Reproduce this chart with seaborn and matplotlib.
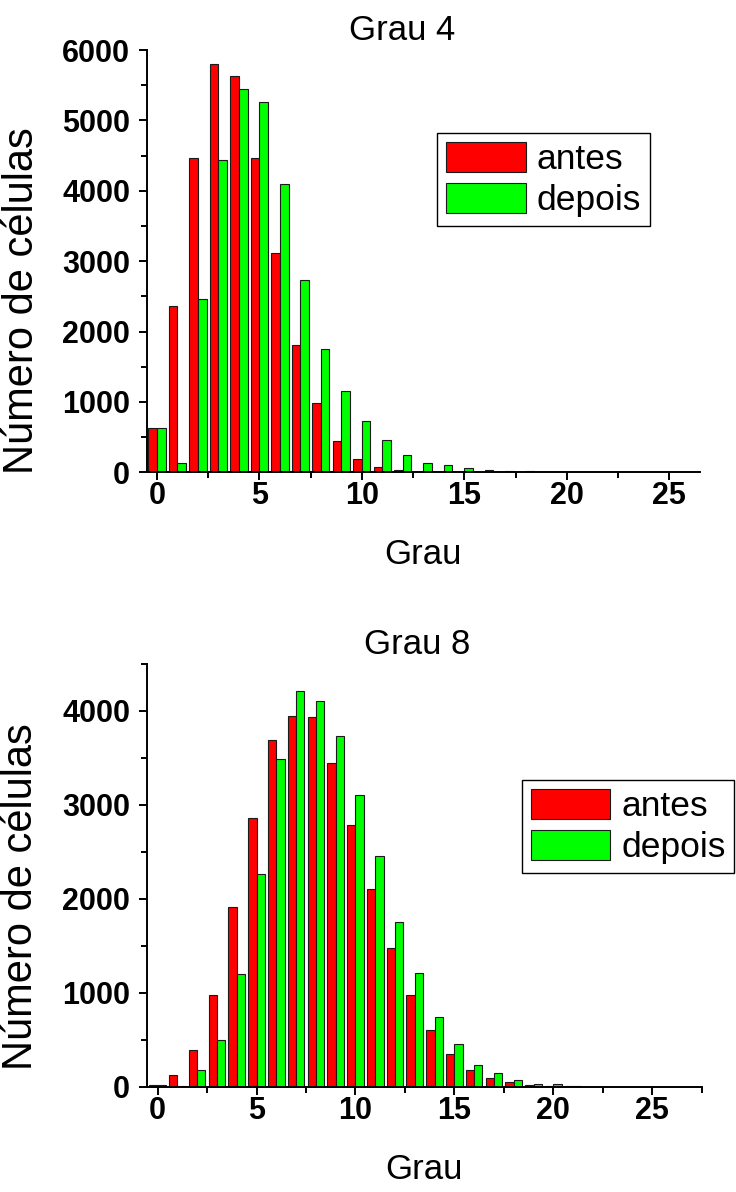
import numpy as np
import pandas as pd
import matplotlib
matplotlib.use("Agg")
import matplotlib.pyplot as plt
from matplotlib.patches import Patch
from matplotlib.ticker import MultipleLocator
import seaborn as sns

# ---------------- data ----------------
grau4_x = list(range(0, 27))
grau4_antes = [634, 2367, 4461, 5797, 5631, 4470, 3112, 1804, 989, 440, 190, 77, 34, 10, 4, 2, 1,
               0, 0, 0, 0, 0, 0, 0, 0, 0, 0]
grau4_depois = [634, 128, 2462, 4437, 5446, 5257, 4101, 2728, 1756, 1160, 730, 465, 251, 134, 105,
                67, 34, 20, 14, 10, 6, 4, 3, 2, 2, 1, 1]

grau8_x = list(range(0, 25))
grau8_antes = [21, 124, 397, 975, 1918, 2865, 3688, 3947, 3933, 3443, 2787, 2110, 1482, 977, 610,
               348, 185, 100, 50, 21, 15, 7, 5, 3, 1]
grau8_depois = [20, 10, 177, 496, 1202, 2266, 3489, 4216, 4110, 3734, 3110, 2457, 1759, 1210, 740,
                455, 238, 146, 79, 36, 28, 9, 5, 4, 1]

series_names = ["antes", "depois"]
palette = {"antes": "#ff0000", "depois": "#00ff00"}
titles = ["Grau 4", "Grau 8"]
xlabel = "Grau"
ylabel = "Número de células"


def long_df(x, a, d):
    return pd.DataFrame({
        "grau": x + x,
        "n": a + d,
        "serie": ["antes"] * len(x) + ["depois"] * len(x),
    })


sns.set_style("ticks")
plt.rcParams["font.family"] = ["Liberation Sans", "DejaVu Sans"]
plt.rcParams["text.color"] = "black"
plt.rcParams["axes.labelcolor"] = "black"
plt.rcParams["xtick.color"] = "black"
plt.rcParams["ytick.color"] = "black"
plt.rcParams["xtick.labelcolor"] = "black"
plt.rcParams["ytick.labelcolor"] = "black"

fig = plt.figure(figsize=(7.36, 11.92), dpi=100)
W, H = 736, 1192


def axes_px(left, top, right, bottom):
    return fig.add_axes([left / W, 1 - bottom / H, (right - left) / W, (bottom - top) / H])


ax1 = axes_px(146.7, 50, 700, 472.3)
ax2 = axes_px(146.7, 664, 701.7, 1087)

configs = [
    (ax1, long_df(grau4_x, grau4_antes, grau4_depois), (-0.5, 26.5), (0, 6000),
     titles[0], 0.462, (0.525, 0.8035), 0.407),
    (ax2, long_df(grau8_x, grau8_antes, grau8_depois), (-0.55, 27.5), (0, 4500),
     titles[1], 0.488, (0.676, 0.726), 0.45),
]

for ax, df, xlim, ylim, title, tx, leg_anchor, ylab_y in configs:
    sns.barplot(data=df, x="grau", y="n", hue="serie", hue_order=series_names,
                palette=palette, saturation=1, native_scale=True, width=0.84,
                errorbar=None, edgecolor="#1a1a1a", linewidth=0.8, ax=ax)
    ax.set_xlim(*xlim)
    ax.set_ylim(*ylim)
    sns.despine(ax=ax)
    for s in ["left", "bottom"]:
        ax.spines[s].set_linewidth(1.4)
        ax.spines[s].set_color("black")
    ax.xaxis.set_major_locator(MultipleLocator(5))
    ax.xaxis.set_minor_locator(MultipleLocator(2.5))
    ax.yaxis.set_major_locator(MultipleLocator(1000))
    ax.yaxis.set_minor_locator(MultipleLocator(500))
    ax.tick_params(axis="both", which="major", direction="out", length=6, width=1.4,
                   labelsize=22, color="black", labelcolor="black")
    ax.tick_params(axis="both", which="minor", direction="out", length=4, width=1.4,
                   color="black")
    ax.tick_params(axis="x", which="major", pad=0.5)
    ax.tick_params(axis="y", which="major", pad=6)
    for lab in ax.get_xticklabels() + ax.get_yticklabels():
        lab.set_fontweight("bold")
    ax.set_xlabel(xlabel, fontsize=25, color="black")
    ax.set_ylabel(ylabel, fontsize=30, color="black")
    ax.xaxis.set_label_coords(0.5, -0.156)
    ax.yaxis.set_label_coords(-0.19, ylab_y)
    ax.set_title(title, fontsize=25, x=tx, pad=7, color="black")

    handles = [Patch(facecolor=palette[s], edgecolor="#1a1a1a", linewidth=0.8) for s in series_names]
    leg = ax.legend(handles, series_names, loc="upper left", bbox_to_anchor=leg_anchor,
                    fontsize=25.5, frameon=True, fancybox=False, framealpha=1,
                    edgecolor="black", handlelength=2.25, handleheight=0.93,
                    handletextpad=0.3, borderpad=0.25, labelspacing=0.2,
                    borderaxespad=0)
    leg.get_frame().set_linewidth(1.0)
    for t in leg.get_texts():
        t.set_color("black")

fig.savefig("out.png", dpi=100)
